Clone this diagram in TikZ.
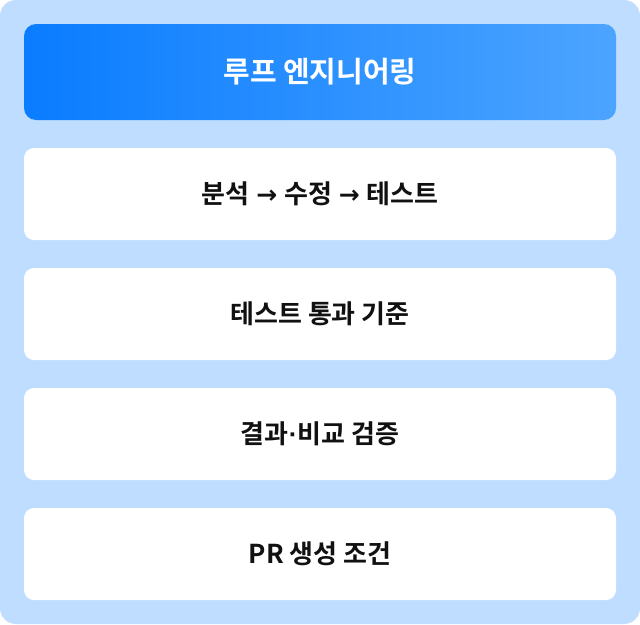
\documentclass[tikz,border=0pt]{standalone}
\usepackage{fontspec}
\setmainfont{Noto Sans CJK KR}[BoldFont={Noto Sans CJK KR Bold}]
\newfontfamily\symfont{DejaVu Sans}[BoldFont={DejaVu Sans Bold}]
\newfontfamily\dotfont{Liberation Sans}[BoldFont={Liberation Sans Bold}]
\newcommand{\arr}{{\symfont\fontsize{25}{30}\selectfont\bfseries\kern1pt→\kern1pt}}
\newcommand{\mdot}{{\dotfont\bfseries ·}}
\definecolor{bgblue}{HTML}{BEDDFF}
\definecolor{hdleft}{HTML}{0A7CFF}
\definecolor{hdright}{HTML}{4CA4FF}
\definecolor{txt}{HTML}{111111}
\begin{document}
\begin{tikzpicture}[x=1pt,y=-1pt,
  card/.style={fill=white, rounded corners=10pt},
  lbl/.style={font=\fontsize{26}{30}\selectfont\bfseries, text=txt, inner sep=0pt},
  hdlbl/.style={font=\fontsize{29}{34}\selectfont\bfseries, text=white, inner sep=0pt}]
\useasboundingbox (0,0) rectangle (640,624);
\fill[bgblue, rounded corners=16pt] (0,0) rectangle (640,624);
\shade[left color=hdleft, right color=hdright, rounded corners=12pt] (24,24) rectangle (616,120);
\node[hdlbl] (h) at (320,72) {루프 엔지니어링};
\fill[card] (24,148) rectangle (616,240);
\node[lbl] (a) at (320,194) {분석 \arr{} 수정 \arr{} 테스트};
\fill[card] (24,268) rectangle (616,360);
\node[lbl] (b) at (320,314) {테스트 통과 기준};
\fill[card] (24,388) rectangle (616,480);
\node[lbl] (c) at (320,434) {결과\mdot{}비교 검증};
\fill[card] (24,508) rectangle (616,600);
\node[lbl] (d) at (320,554) {PR 생성 조건};
\end{tikzpicture}
\end{document}
